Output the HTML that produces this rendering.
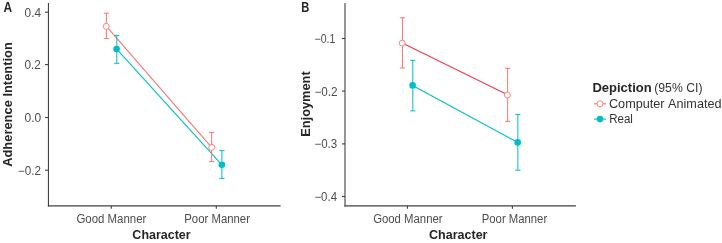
<!DOCTYPE html>
<html><head><meta charset="utf-8"><style>
html,body{margin:0;padding:0;background:#fff;}
svg{display:block;will-change:transform;}
text{font-family:"Liberation Sans",sans-serif;font-kerning:none;}
</style></head><body>
<svg width="722" height="243" viewBox="0 0 722 243">
<rect width="722" height="243" fill="#fff"/>
<text x="3.50" y="11.70" font-size="13.80" font-weight="bold" fill="#262626" textLength="8.61" lengthAdjust="spacingAndGlyphs">A</text>
<text x="301.35" y="11.70" font-size="13.80" font-weight="bold" fill="#262626" textLength="8.05" lengthAdjust="spacingAndGlyphs">B</text>
<path d="M48.45 3 V206.4" fill="none" stroke="#404040" stroke-width="1.1"/>
<path d="M47.9 205.85 H280.6" fill="none" stroke="#404040" stroke-width="1.25"/>
<line x1="45" x2="48.45" y1="12.20" y2="12.20" stroke="#404040" stroke-width="1.1"/>
<text x="24.54" y="16.60" font-size="12.00" font-weight="normal" fill="#4d4d4d" textLength="16.51" lengthAdjust="spacingAndGlyphs">0.4</text>
<line x1="45" x2="48.45" y1="64.60" y2="64.60" stroke="#404040" stroke-width="1.1"/>
<text x="24.54" y="69.00" font-size="12.00" font-weight="normal" fill="#4d4d4d" textLength="16.35" lengthAdjust="spacingAndGlyphs">0.2</text>
<line x1="45" x2="48.45" y1="117.50" y2="117.50" stroke="#404040" stroke-width="1.1"/>
<text x="24.53" y="121.90" font-size="12.00" font-weight="normal" fill="#4d4d4d" textLength="16.63" lengthAdjust="spacingAndGlyphs">0.0</text>
<line x1="45" x2="48.45" y1="170.20" y2="170.20" stroke="#404040" stroke-width="1.1"/>
<text x="17.82" y="174.60" font-size="12.00" font-weight="normal" fill="#4d4d4d" textLength="23.17" lengthAdjust="spacingAndGlyphs">−0.2</text>
<line x1="111.30" x2="111.30" y1="205.9" y2="208.7" stroke="#404040" stroke-width="1.1"/>
<line x1="216.30" x2="216.30" y1="205.9" y2="208.7" stroke="#404040" stroke-width="1.1"/>
<text x="76.42" y="222.80" font-size="12.00" font-weight="normal" fill="#4d4d4d" textLength="69.97" lengthAdjust="spacingAndGlyphs">Good Manner</text>
<text x="184.27" y="222.80" font-size="12.00" font-weight="normal" fill="#4d4d4d" textLength="65.72" lengthAdjust="spacingAndGlyphs">Poor Manner</text>
<text x="132.39" y="239.10" font-size="12.20" font-weight="bold" fill="#262626" textLength="58.20" lengthAdjust="spacingAndGlyphs">Character</text>
<text transform="translate(11.90 166.82) rotate(-90)" x="0" y="0" font-size="12.70" font-weight="bold" fill="#262626" textLength="124.62" lengthAdjust="spacingAndGlyphs">Adherence Intention</text>
<path d="M345 3 V206.4" fill="none" stroke="#404040" stroke-width="1.1"/>
<path d="M344.45 205.85 H575.9" fill="none" stroke="#404040" stroke-width="1.25"/>
<line x1="342" x2="345" y1="38.50" y2="38.50" stroke="#404040" stroke-width="1.1"/>
<text x="314.48" y="42.90" font-size="12.00" font-weight="normal" fill="#4d4d4d" textLength="20.84" lengthAdjust="spacingAndGlyphs">−0.1</text>
<line x1="342" x2="345" y1="91.10" y2="91.10" stroke="#404040" stroke-width="1.1"/>
<text x="314.42" y="95.50" font-size="12.00" font-weight="normal" fill="#4d4d4d" textLength="23.17" lengthAdjust="spacingAndGlyphs">−0.2</text>
<line x1="342" x2="345" y1="143.90" y2="143.90" stroke="#404040" stroke-width="1.1"/>
<text x="314.43" y="148.30" font-size="12.00" font-weight="normal" fill="#4d4d4d" textLength="22.78" lengthAdjust="spacingAndGlyphs">−0.3</text>
<line x1="342" x2="345" y1="196.50" y2="196.50" stroke="#404040" stroke-width="1.1"/>
<text x="314.44" y="200.90" font-size="12.00" font-weight="normal" fill="#4d4d4d" textLength="22.60" lengthAdjust="spacingAndGlyphs">−0.4</text>
<line x1="407.40" x2="407.40" y1="205.9" y2="208.7" stroke="#404040" stroke-width="1.1"/>
<line x1="512.40" x2="512.40" y1="205.9" y2="208.7" stroke="#404040" stroke-width="1.1"/>
<text x="373.13" y="222.80" font-size="12.00" font-weight="normal" fill="#4d4d4d" textLength="69.46" lengthAdjust="spacingAndGlyphs">Good Manner</text>
<text x="481.77" y="222.80" font-size="12.00" font-weight="normal" fill="#4d4d4d" textLength="65.42" lengthAdjust="spacingAndGlyphs">Poor Manner</text>
<text x="428.99" y="239.10" font-size="12.20" font-weight="bold" fill="#262626" textLength="58.50" lengthAdjust="spacingAndGlyphs">Character</text>
<text transform="translate(309.80 136.76) rotate(-90)" x="0" y="0" font-size="12.70" font-weight="bold" fill="#262626" textLength="65.41" lengthAdjust="spacingAndGlyphs">Enjoyment</text>
<line x1="106.4" y1="26.4" x2="211.65" y2="147.4" stroke="#F8766D" stroke-width="1.1"/>
<line x1="116.7" y1="49.1" x2="221.9" y2="164.8" stroke="#00BFC4" stroke-width="1.1"/>
<path d="M106.40 13.20 V38.60 M103.80 13.20 H109.00 M103.80 38.60 H109.00" stroke="#F8766D" stroke-width="1.0" fill="none"/>
<path d="M211.65 132.40 V161.60 M209.05 132.40 H214.25 M209.05 161.60 H214.25" stroke="#F8766D" stroke-width="1.0" fill="none"/>
<path d="M116.80 35.40 V63.30 M114.20 35.40 H119.40 M114.20 63.30 H119.40" stroke="#00BFC4" stroke-width="1.0" fill="none"/>
<path d="M221.90 150.60 V178.40 M219.30 150.60 H224.50 M219.30 178.40 H224.50" stroke="#00BFC4" stroke-width="1.0" fill="none"/>
<circle cx="106.30" cy="26.40" r="3.0" fill="#fff" stroke="#F8766D" stroke-width="0.9"/>
<circle cx="211.70" cy="147.40" r="3.0" fill="#fff" stroke="#F8766D" stroke-width="0.9"/>
<circle cx="116.60" cy="49.10" r="3.3" fill="#00BFC4"/>
<circle cx="221.90" cy="164.80" r="3.3" fill="#00BFC4"/>
<line x1="402.3" y1="43.0" x2="507.55" y2="94.8" stroke="#EE3B4E" stroke-width="1.1"/>
<line x1="412.6" y1="85.4" x2="517.7" y2="142.4" stroke="#00BFC4" stroke-width="1.1"/>
<path d="M402.45 17.80 V68.00 M399.85 17.80 H405.05 M399.85 68.00 H405.05" stroke="#F8766D" stroke-width="1.0" fill="none"/>
<path d="M507.65 68.30 V121.30 M505.05 68.30 H510.25 M505.05 121.30 H510.25" stroke="#F8766D" stroke-width="1.0" fill="none"/>
<path d="M412.80 60.30 V110.90 M410.20 60.30 H415.40 M410.20 110.90 H415.40" stroke="#00BFC4" stroke-width="1.0" fill="none"/>
<path d="M517.85 114.60 V170.20 M515.25 114.60 H520.45 M515.25 170.20 H520.45" stroke="#00BFC4" stroke-width="1.0" fill="none"/>
<circle cx="402.25" cy="43.15" r="3.0" fill="#fff" stroke="#F8766D" stroke-width="0.9"/>
<circle cx="507.45" cy="95.00" r="3.0" fill="#fff" stroke="#F8766D" stroke-width="0.9"/>
<circle cx="412.60" cy="85.40" r="3.3" fill="#00BFC4"/>
<circle cx="517.70" cy="142.40" r="3.3" fill="#00BFC4"/>
<text x="592.43" y="92.45" font-size="12.20" font-weight="bold" fill="#262626" textLength="59.28" lengthAdjust="spacingAndGlyphs">Depiction</text>
<text x="654.24" y="92.45" font-size="12.30" font-weight="normal" fill="#333" textLength="48.22" lengthAdjust="spacingAndGlyphs">(95% CI)</text>
<line x1="594" x2="606" y1="103.8" y2="103.8" stroke="#F8766D" stroke-width="1.1"/>
<circle cx="600" cy="103.8" r="3.0" fill="#fff" stroke="#F8766D" stroke-width="0.9"/>
<line x1="594" x2="606" y1="119.1" y2="119.1" stroke="#00BFC4" stroke-width="1.1"/>
<circle cx="600" cy="119.1" r="3.3" fill="#00BFC4"/>
<text x="608.96" y="107.90" font-size="12.30" font-weight="normal" fill="#333" textLength="112.56" lengthAdjust="spacingAndGlyphs">Computer Animated</text>
<text x="609.15" y="122.60" font-size="12.30" font-weight="normal" fill="#333" textLength="23.72" lengthAdjust="spacingAndGlyphs">Real</text>
</svg>
</body></html>
